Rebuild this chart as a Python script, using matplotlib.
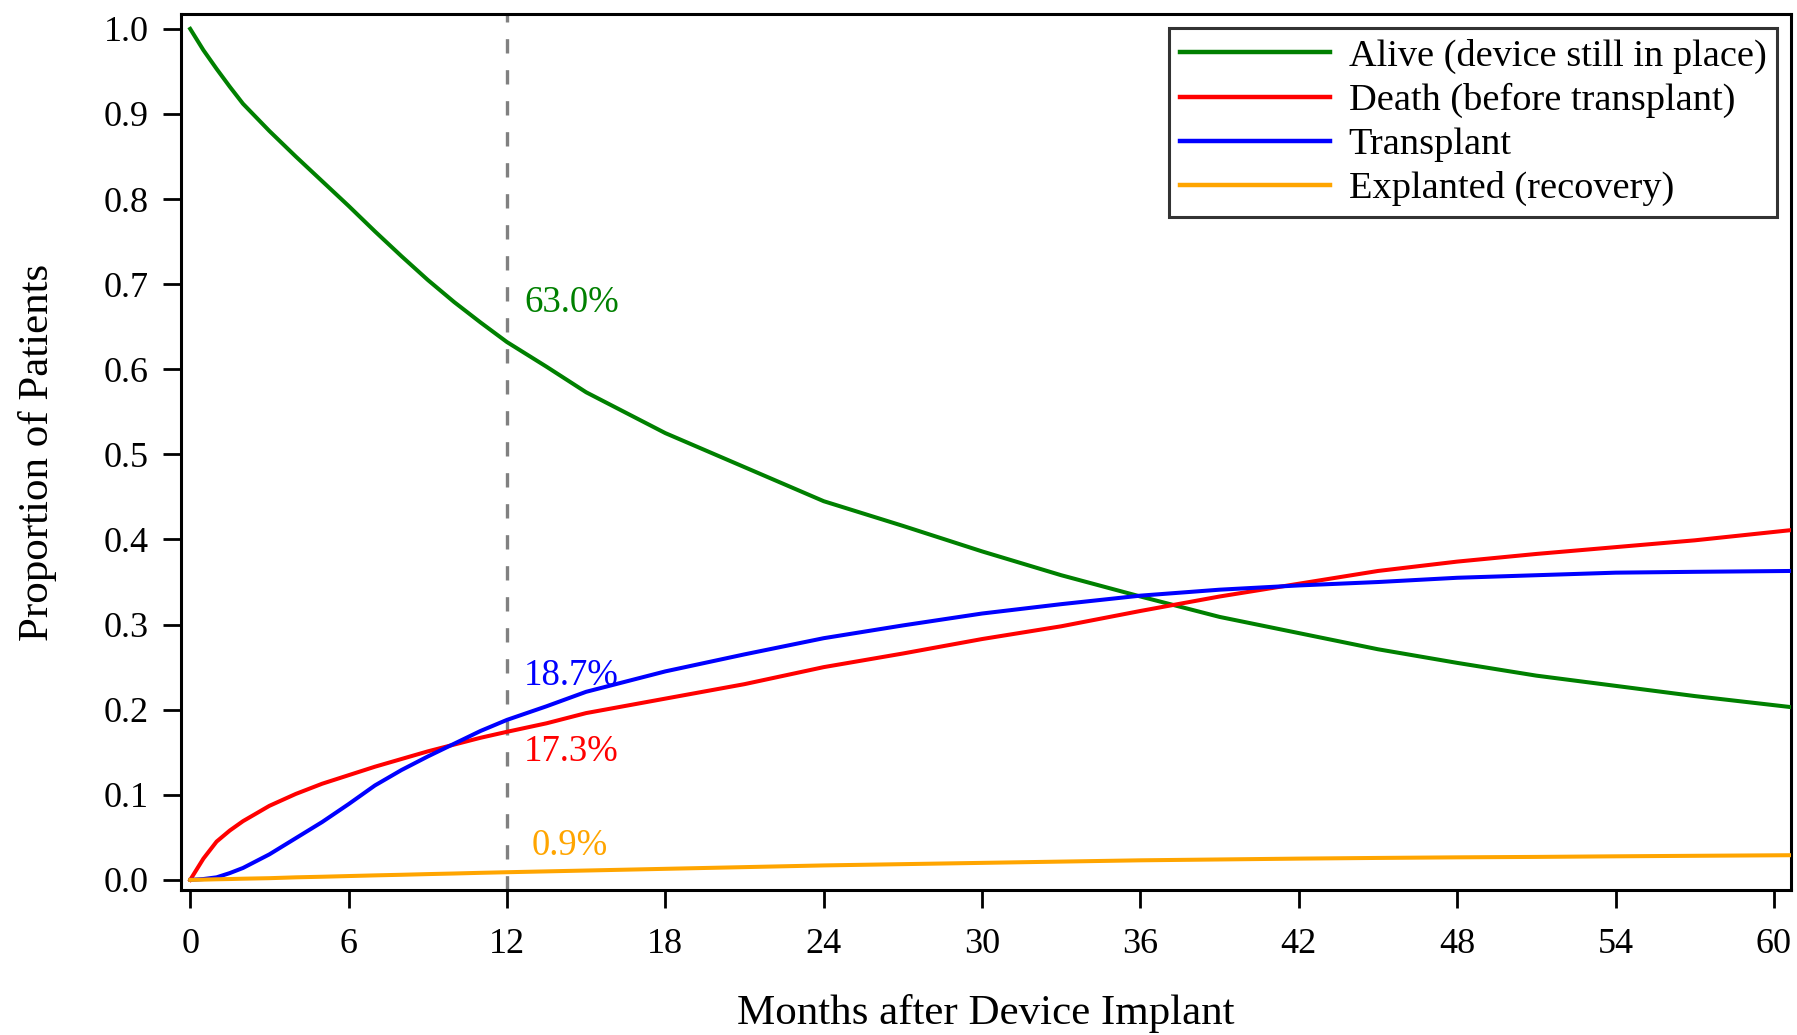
import numpy as np
import matplotlib.pyplot as plt

plt.rcParams['font.family'] = ['Liberation Serif', 'DejaVu Serif']

# months after implant for the read-off points
months = [0, 0.5, 1, 1.5, 2, 3, 4, 5, 6, 7, 8, 9, 10, 11, 12, 13.5, 15, 18,
          21, 24, 27, 30, 33, 36, 39, 42, 45, 48, 51, 54, 57, 60.65]

alive = [1.0, 0.975, 0.953, 0.932, 0.912, 0.880, 0.850, 0.821, 0.792, 0.762,
         0.733, 0.705, 0.679, 0.655, 0.632, 0.603, 0.573, 0.525, 0.485,
         0.445, 0.416, 0.386, 0.358, 0.333, 0.309, 0.290, 0.271, 0.255,
         0.240, 0.228, 0.216, 0.203]

death = [0.0, 0.025, 0.045, 0.058, 0.069, 0.087, 0.101, 0.113, 0.123, 0.133,
         0.142, 0.151, 0.159, 0.167, 0.174, 0.184, 0.196, 0.213, 0.230,
         0.250, 0.266, 0.283, 0.298, 0.316, 0.333, 0.348, 0.363, 0.374,
         0.383, 0.391, 0.399, 0.411]

transplant = [0.0, 0.001, 0.003, 0.008, 0.014, 0.030, 0.049, 0.068, 0.089,
              0.111, 0.129, 0.145, 0.160, 0.175, 0.188, 0.204, 0.221, 0.245,
              0.265, 0.284, 0.299, 0.313, 0.324, 0.334, 0.341, 0.346, 0.350,
              0.355, 0.358, 0.361, 0.362, 0.363]

explant = [0.0, 0.0003, 0.0007, 0.001, 0.0014, 0.002, 0.003, 0.0037, 0.0045,
           0.0053, 0.006, 0.0068, 0.0075, 0.0083, 0.009, 0.010, 0.011, 0.013,
           0.015, 0.017, 0.0185, 0.020, 0.0215, 0.023, 0.024, 0.025, 0.0258,
           0.0265, 0.027, 0.0277, 0.0283, 0.029]

series = [
    ("Alive (device still in place)", alive, "#008000"),
    ("Death (before transplant)", death, "#ff0000"),
    ("Transplant", transplant, "#0000ff"),
    ("Explanted (recovery)", explant, "#ffa500"),
]

# labels at the 12 month line
labels_12 = [("63.0%", 12.65, 0.678, "#008000"),
             ("18.7%", 12.65, 0.240, "#0000ff"),
             ("17.3%", 12.65, 0.151, "#ff0000"),
             ("0.9%", 12.95, 0.040, "#ffa500")]

xticks = np.arange(0, 61, 6)
yticks = np.round(np.arange(0, 1.01, 0.1), 1)


def main():
    fig = plt.figure(figsize=(17.97, 10.35), dpi=100)
    ax = fig.add_axes([0.1007, 0.140, 0.8960, 0.8465])

    ax.axvline(12, color="#808080", linestyle=(0, (4.3, 5)), linewidth=2.4,
               zorder=1)

    for name, values, color in series:
        ax.plot(months, values, color=color, linewidth=2.9, label=name,
                zorder=3)

    for text, x, y, color in labels_12:
        ax.text(x, y, text, color=color, fontsize=26.5, va="center",
                ha="left", zorder=4)

    ax.set_xlim(-0.35, 60.65)
    ax.set_ylim(-0.012, 1.0175)
    ax.set_xticks(xticks)
    ax.set_yticks(yticks)
    ax.set_yticklabels([f"{v:.1f}" for v in yticks])
    ax.tick_params(axis="both", direction="out", length=13, width=2.0,
                   labelsize=26)
    ax.tick_params(axis="x", pad=14)
    ax.tick_params(axis="y", pad=10)

    for spine in ax.spines.values():
        spine.set_linewidth(2.2)

    ax.set_xlabel("Months after Device Implant", fontsize=31, labelpad=24)
    ax.set_ylabel("Proportion of Patients", fontsize=31, labelpad=34)

    leg = ax.legend(loc="upper right", fontsize=27.6, handlelength=3.9,
                    frameon=True, fancybox=False, borderaxespad=0.36,
                    labelspacing=0.24, borderpad=0.28, handletextpad=0.5)
    leg.get_frame().set_edgecolor("black")
    leg.get_frame().set_linewidth(2.2)
    for line in leg.get_lines():
        line.set_linewidth(3.2)

    fig.savefig("out.png", dpi=100)


if __name__ == "__main__":
    main()
